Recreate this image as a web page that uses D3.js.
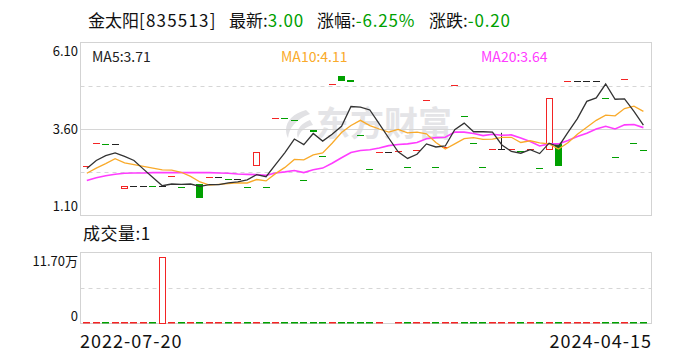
<!DOCTYPE html>
<html>
<head>
<meta charset="utf-8">
<script src="https://cdn.jsdelivr.net/npm/d3@7"></script>
<style>
body { margin: 0; background: #fff; }
svg { display: block; font-family: "Noto Sans CJK SC", "Noto Sans", sans-serif; }
</style>
</head>
<body>
<div id="chart"></div>
<script>
// daily bars, 60 sessions
var opens = [2.54, 3.20, 3.17, 3.17, 1.90, 1.96, 1.96, 1.95, 1.95, 2.23,
  1.91, 2.02, 2.00, 2.21, 2.21, 2.16, 2.16, 1.92, 2.57, 1.92,
  3.92, 3.91, 3.87, 2.14, 3.58, 2.83, 4.91, 5.12, 5.02, 3.43,
  2.43, 2.94, 2.94, 2.95, 2.51, 3.00, 4.44, 2.51, 3.07, 4.86,
  3.97, 3.20, 2.50, 3.01, 3.01, 3.02, 2.95, 3.01, 2.48, 3.03,
  3.20, 5.00, 5.00, 5.00, 5.00, 4.50, 2.80, 5.05, 3.20, 3.00];
var closes = [2.54, 3.20, 3.17, 3.17, 1.96, 1.96, 1.96, 1.95, 1.95, 2.23,
  1.91, 2.02, 1.60, 2.21, 2.21, 2.16, 2.16, 1.92, 2.93, 1.92,
  3.92, 3.91, 3.87, 2.14, 3.52, 2.83, 4.91, 5.00, 4.97, 3.43,
  2.43, 2.94, 2.94, 2.95, 2.51, 3.00, 4.44, 2.51, 3.07, 4.86,
  3.97, 3.20, 2.50, 3.01, 3.01, 3.02, 2.95, 3.01, 2.48, 4.50,
  2.52, 5.00, 5.00, 5.00, 5.00, 4.50, 2.80, 5.05, 3.20, 3.00];
var highs = [2.54, 3.20, 3.17, 3.17, 1.96, 1.96, 1.96, 1.95, 1.95, 2.23,
  1.91, 2.02, 2.00, 2.21, 2.21, 2.16, 2.16, 1.92, 2.93, 1.92,
  3.92, 3.91, 3.87, 2.14, 3.58, 2.83, 4.91, 5.12, 5.02, 3.43,
  2.43, 2.94, 2.94, 2.95, 2.51, 3.00, 4.44, 2.51, 3.07, 4.86,
  3.97, 3.20, 2.50, 3.01, 3.49, 3.02, 2.95, 3.01, 2.48, 4.50,
  3.20, 5.00, 5.00, 5.00, 5.00, 4.50, 2.80, 5.05, 3.20, 3.00];
var lows = [2.54, 3.20, 3.17, 3.17, 1.90, 1.96, 1.96, 1.95, 1.95, 2.23,
  1.91, 2.02, 1.60, 2.21, 2.21, 2.16, 2.16, 1.92, 2.57, 1.92,
  3.92, 3.91, 3.87, 2.14, 3.52, 2.83, 4.91, 5.00, 4.97, 3.43,
  2.43, 2.94, 2.94, 2.95, 2.51, 3.00, 4.44, 2.51, 3.07, 4.86,
  3.97, 3.20, 2.50, 3.01, 3.01, 3.02, 2.95, 3.01, 2.48, 3.03,
  2.52, 5.00, 5.00, 5.00, 5.00, 4.50, 2.80, 5.05, 3.20, 3.00];
var volumes = [3, 1, 2, 1, 5, 1, 1, 2, 117000, 1,
  2, 1, 3, 1, 1, 2, 1, 2, 4, 1,
  2, 1, 1, 2, 3, 1, 2, 1, 1, 2,
  1, 1, 0, 1, 2, 1, 1, 2, 1, 1,
  2, 1, 1, 3, 1, 1, 2, 1, 1, 2,
  1, 1, 1, 1, 1, 2, 1, 1, 1, 1];
var prevClose = 2.40;

// moving averages as shown on the chart
var ma5 = [2.46, 2.69, 2.83, 2.91, 2.81, 2.69, 2.44, 2.20, 1.96, 2.01,
  2.00, 2.01, 1.94, 1.99, 1.99, 2.04, 2.07, 2.13, 2.28, 2.22,
  2.57, 2.92, 3.31, 3.15, 3.47, 3.25, 3.45, 3.68, 4.25, 4.23,
  4.15, 3.75, 3.34, 2.94, 2.75, 2.87, 3.17, 3.08, 3.11, 3.58,
  3.77, 3.52, 3.52, 3.51, 3.14, 2.95, 2.90, 3.00, 2.89, 3.19,
  3.09, 3.50, 3.90, 4.40, 4.50, 4.90, 4.46, 4.47, 4.11, 3.71];
var ma10 = [2.32, 2.47, 2.60, 2.74, 2.62, 2.57, 2.52, 2.47, 2.42, 2.41,
  2.35, 2.23, 2.07, 1.98, 2.00, 2.02, 2.04, 2.04, 2.14, 2.10,
  2.31, 2.49, 2.72, 2.71, 2.85, 2.91, 3.19, 3.50, 3.70, 3.85,
  3.70, 3.60, 3.51, 3.59, 3.49, 3.51, 3.46, 3.21, 3.02, 3.17,
  3.32, 3.35, 3.30, 3.31, 3.36, 3.36, 3.21, 3.26, 3.20, 3.17,
  3.02, 3.20, 3.45, 3.65, 3.85, 4.00, 3.98, 4.19, 4.26, 4.11];
var ma20 = [2.11, 2.19, 2.25, 2.29, 2.32, 2.33, 2.33, 2.34, 2.34, 2.34,
  2.34, 2.34, 2.34, 2.34, 2.33, 2.32, 2.30, 2.29, 2.28, 2.26,
  2.33, 2.36, 2.40, 2.34, 2.42, 2.47, 2.61, 2.77, 2.92, 2.98,
  3.00, 3.05, 3.12, 3.15, 3.17, 3.21, 3.32, 3.35, 3.36, 3.51,
  3.51, 3.47, 3.41, 3.45, 3.42, 3.43, 3.34, 3.24, 3.11, 3.17,
  3.17, 3.27, 3.38, 3.48, 3.60, 3.68, 3.60, 3.72, 3.73, 3.64];

var priceTicks = [6.10, 3.60, 1.10];
var volTickLabels = ["11.70万", "0"];
var dateLabels = ["2022-07-20", "2024-04-15"];

var RED = "#f32424";
var GREEN = "#00a000";
var BLACK = "#222";

var svgWidth = 688;
var svgHeight = 360;

var svg = d3.select("#chart")
  .append("svg")
  .attr("width", svgWidth)
  .attr("height", svgHeight);

var left = 80.5, right = 651.5;
var priceTop = 42.5, priceBottom = 215.5;
var volTop = 252.5, volBottom = 323.5;

var xBand = d3.scaleBand()
  .domain(d3.range(closes.length))
  .range([left, right])
  .paddingInner(0.25)
  .paddingOuter(0.39)
  .align(0.38);

var yPrice = d3.scaleLinear()
  .domain([priceTicks[2], priceTicks[0]])
  .range([priceBottom, priceTop]);

var yVol = d3.scaleLinear()
  .domain([0, 124000])
  .range([volBottom, volTop]);

function candleColor(i) {
  if (closes[i] > opens[i]) return RED;
  if (closes[i] < opens[i]) return GREEN;
  var prev = i ? closes[i - 1] : prevClose;
  if (closes[i] > prev) return RED;
  if (closes[i] < prev) return GREEN;
  return BLACK;
}

// title
var title = svg.append("text")
  .attr("y", 27)
  .style("font-size", "17px")
  .attr("fill", "#111");
title.append("tspan").attr("x", 88).text("金太阳");
title.append("tspan").style("letter-spacing", "1.2px").text("[835513]");
title.append("tspan").attr("x", 229).text("最新:");
title.append("tspan").attr("fill", GREEN).style("letter-spacing", "0.8px").text("3.00");
title.append("tspan").attr("x", 317).text("涨幅:");
title.append("tspan").attr("fill", GREEN).style("letter-spacing", "0.8px").text("-6.25%");
title.append("tspan").attr("x", 429).text("涨跌:");
title.append("tspan").attr("fill", GREEN).style("letter-spacing", "0.8px").text("-0.20");

// watermark
var wm = svg.append("g").attr("opacity", 0.55);
wm.append("path")
  .attr("d", "M306,110 C290,114 282,126 288,138 C289,128 296,119 310,114 Z M310,120 C300,124 295,131 298,138 C300,131 305,127 313,125 Z")
  .attr("fill", "#c9c9cf");
wm.append("text")
  .attr("x", 316)
  .attr("y", 136)
  .style("font-size", "34px")
  .style("font-weight", "bold")
  .attr("fill", "#cfcfd4")
  .text("东方财富");

// price frame and grid
var gridG = svg.append("g");
[1, 3].forEach(function(k) {
  var gy = Math.round(priceTop + (priceBottom - priceTop) * k / 4) + 0.5;
  gridG.append("line")
    .attr("x1", left).attr("x2", right)
    .attr("y1", gy).attr("y2", gy)
    .attr("stroke", "#d6d6d6")
    .attr("stroke-dasharray", "4,4");
});
gridG.append("line")
  .attr("x1", left).attr("x2", right)
  .attr("y1", Math.round(yPrice(priceTicks[1])) + 0.5)
  .attr("y2", Math.round(yPrice(priceTicks[1])) + 0.5)
  .attr("stroke", "#d6d6d6");
gridG.append("rect")
  .attr("x", left).attr("y", priceTop)
  .attr("width", right - left).attr("height", priceBottom - priceTop)
  .attr("fill", "none")
  .attr("stroke", "#d3d3d3");

// volume frame
var vMid = Math.round((volTop + volBottom) / 2) + 0.5;
gridG.append("line")
  .attr("x1", left).attr("x2", right)
  .attr("y1", vMid).attr("y2", vMid)
  .attr("stroke", "#d6d6d6")
  .attr("stroke-dasharray", "4,4");
gridG.append("rect")
  .attr("x", left).attr("y", volTop)
  .attr("width", right - left).attr("height", volBottom - volTop)
  .attr("fill", "none")
  .attr("stroke", "#d3d3d3");

// candles
var bw = Math.round(xBand.bandwidth());
var candles = svg.append("g").selectAll("g")
  .data(d3.range(closes.length))
  .enter()
  .append("g");

candles.each(function(i) {
  var g = d3.select(this);
  var x0 = Math.round(xBand(i));
  var c = candleColor(i);
  var top = Math.max(opens[i], closes[i]);
  var bot = Math.min(opens[i], closes[i]);
  if (highs[i] > top || lows[i] < bot) {
    g.append("line")
      .attr("x1", x0 + bw / 2).attr("x2", x0 + bw / 2)
      .attr("y1", yPrice(highs[i])).attr("y2", yPrice(lows[i]))
      .attr("stroke", c);
  }
  if (opens[i] === closes[i]) {
    g.append("rect")
      .attr("x", x0).attr("y", Math.round(yPrice(closes[i])))
      .attr("width", bw).attr("height", 1)
      .attr("fill", c);
  } else if (c === RED) {
    var yt = Math.round(yPrice(top));
    var yb = Math.round(yPrice(bot));
    g.append("rect")
      .attr("x", x0 + 0.5).attr("y", yt + 0.5)
      .attr("width", bw - 1).attr("height", Math.max(1, yb - yt))
      .attr("fill", "#fff")
      .attr("stroke", c);
  } else {
    var yt2 = Math.round(yPrice(top));
    var yb2 = Math.round(yPrice(bot));
    g.append("rect")
      .attr("x", x0).attr("y", yt2)
      .attr("width", bw).attr("height", Math.max(2, yb2 - yt2))
      .attr("fill", c);
  }
});

// moving average lines
function maLine(values) {
  return d3.line()
    .x(function(d, i) { return xBand(i) + xBand.bandwidth() / 2; })
    .y(function(d) { return yPrice(d); })(values);
}
svg.append("path").attr("d", maLine(ma20))
  .attr("fill", "none").attr("stroke", "#ff3cff").attr("stroke-width", 1.6);
svg.append("path").attr("d", maLine(ma10))
  .attr("fill", "none").attr("stroke", "#f9aa2a").attr("stroke-width", 1.3);
svg.append("path").attr("d", maLine(ma5))
  .attr("fill", "none").attr("stroke", "#333").attr("stroke-width", 1.3);

// legend
var legendY = 62;
svg.append("text").attr("x", 92).attr("y", legendY)
  .style("font-size", "14px").attr("fill", "#222")
  .text("MA5:" + ma5[ma5.length - 1].toFixed(2));
svg.append("text").attr("x", 281).attr("y", legendY)
  .style("font-size", "14px").attr("fill", "#f9aa2a")
  .text("MA10:" + ma10[ma10.length - 1].toFixed(2));
svg.append("text").attr("x", 481).attr("y", legendY)
  .style("font-size", "14px").attr("fill", "#ff3cff")
  .text("MA20:" + ma20[ma20.length - 1].toFixed(2));

// price labels
var priceLabelY = [56, 133.5, 210.5];
priceTicks.forEach(function(t, k) {
  svg.append("text")
    .attr("x", 78).attr("y", priceLabelY[k])
    .attr("text-anchor", "end")
    .style("font-size", "13px")
    .attr("fill", "#111")
    .text(t.toFixed(2));
});

// volume bars
svg.append("g").selectAll("rect")
  .data(d3.range(volumes.length).filter(function(i) { return volumes[i] > 0; }))
  .enter()
  .append("rect")
  .each(function(i) {
    var r = d3.select(this);
    var x0 = Math.round(xBand(i));
    var c = candleColor(i) === GREEN ? GREEN : RED;
    var h = Math.round(yVol(0) - yVol(volumes[i]));
    if (h <= 1) {
      r.attr("x", x0).attr("y", Math.round(volBottom) - 2)
        .attr("width", bw).attr("height", 1.5)
        .attr("fill", c);
    } else {
      r.attr("x", x0 + 0.5).attr("y", Math.round(yVol(volumes[i])) + 0.5)
        .attr("width", bw - 1).attr("height", h - 1)
        .attr("fill", c === RED ? "#fff" : c)
        .attr("stroke", c);
    }
  });

svg.append("text").attr("x", 83).attr("y", 240)
  .style("font-size", "17px").style("letter-spacing", "0.5px").attr("fill", "#111")
  .text("成交量:" + volumes[volumes.length - 1]);

svg.append("text").attr("x", 78).attr("y", 265.5)
  .attr("text-anchor", "end").style("font-size", "13px").attr("fill", "#111")
  .text(volTickLabels[0]);
svg.append("text").attr("x", 78).attr("y", 320.5)
  .attr("text-anchor", "end").style("font-size", "13px").attr("fill", "#111")
  .text(volTickLabels[1]);

// dates
svg.append("text").attr("x", 80).attr("y", 348)
  .style("font-size", "18px").style("letter-spacing", "1px").attr("fill", "#111")
  .text(dateLabels[0]);
svg.append("text").attr("x", 652).attr("y", 348)
  .attr("text-anchor", "end")
  .style("font-size", "18px").style("letter-spacing", "1px").attr("fill", "#111")
  .text(dateLabels[1]);
</script>
</body>
</html>
